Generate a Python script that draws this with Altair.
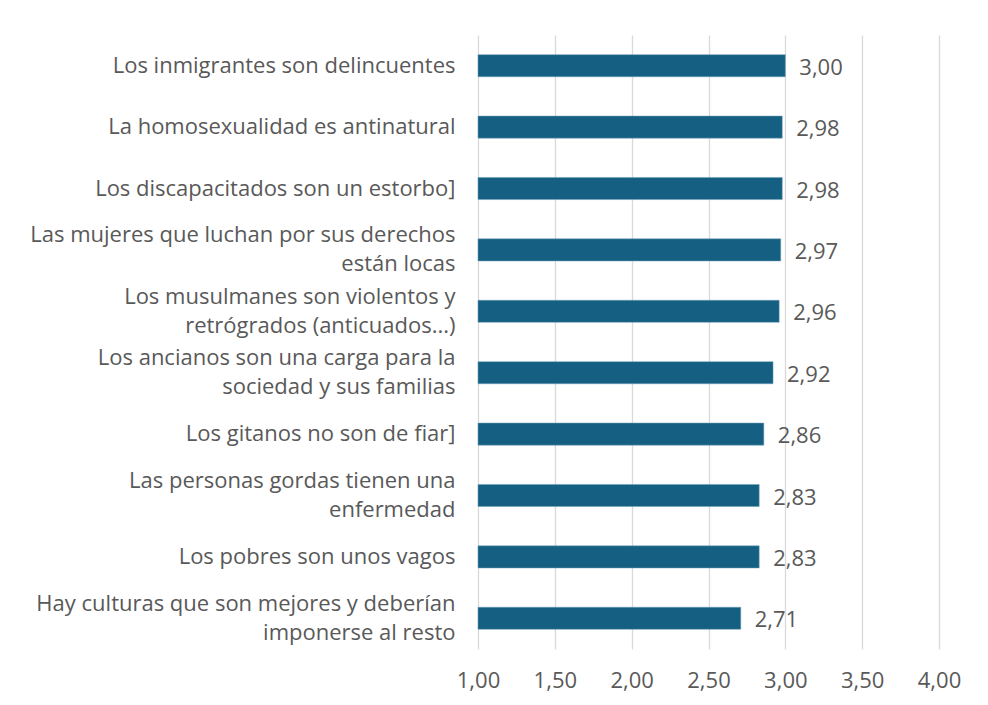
import altair as alt
import pandas as pd

labels = [
    "Los inmigrantes son delincuentes",
    "La homosexualidad es antinatural",
    "Los discapacitados son un estorbo]",
    "Las mujeres que luchan por sus derechos|están locas",
    "Los musulmanes son violentos y|retrógrados (anticuados...)",
    "Los ancianos son una carga para la|sociedad y sus familias",
    "Los gitanos no son de fiar]",
    "Las personas gordas tienen una|enfermedad",
    "Los pobres son unos vagos",
    "Hay culturas que son mejores y deberían|imponerse al resto",
]
values = [3.00, 2.98, 2.98, 2.97, 2.96, 2.92, 2.86, 2.83, 2.83, 2.71]
ticks = [1.0, 1.5, 2.0, 2.5, 3.0, 3.5, 4.0]

df = pd.DataFrame({"label": labels, "value": values})
df["base"] = 1.0
df["txt"] = [f"{v:.2f}".replace(".", ",") for v in values]

FONT = "Open Sans"
FS = 22
TXT = "#595959"

x_scale = alt.Scale(domain=[1, 4], nice=False, zero=False)
y_enc = alt.Y(
    "label:N",
    sort=None,
    scale=alt.Scale(paddingInner=0.64, paddingOuter=0.32),
    axis=alt.Axis(
        title=None,
        domain=False,
        ticks=False,
        labelPadding=23,
        labelFont=FONT,
        labelFontSize=FS,
        labelColor=TXT,
        labelLimit=600,
        labelLineHeight=29,
        labelOffset={
            "condition": {"test": "indexof(datum.value, '|') >= 0", "value": -14.5},
            "value": 0,
        },
        labelExpr="split(datum.label, '|')",
    ),
)

bars = alt.Chart(df).mark_bar(color="#156082", stroke="#6f9fb8", strokeWidth=0.5).encode(
    x=alt.X(
        "base:Q",
        scale=x_scale,
        axis=alt.Axis(
            title=None,
            values=ticks,
            domain=False,
            ticks=False,
            grid=True,
            gridColor="#D9D9D9",
            gridWidth=1.3,
            labelFlush=False,
            labelPadding=21,
            labelFont=FONT,
            labelFontSize=FS,
            labelColor=TXT,
            labelExpr="replace(format(datum.value, '.2f'), '.', ',')",
        ),
    ),
    x2="value:Q",
    y=y_enc,
)

text = alt.Chart(df).mark_text(
    align="left", baseline="middle", dx=14, dy=2, font=FONT, fontSize=FS, color=TXT
).encode(
    x=alt.X("value:Q", scale=x_scale),
    y=alt.Y("label:N", sort=None),
    text="txt:N",
)

chart = (
    alt.layer(bars, text)
    .properties(
        width=461,
        height=614,
        background="white",
        autosize=alt.AutoSizeParams(type="none"),
        padding={"left": 470, "top": 27, "right": 41, "bottom": 50},
    )
    .configure_view(stroke=None)
)

chart.save("out.html", embed_options={"renderer": "svg", "actions": False})
